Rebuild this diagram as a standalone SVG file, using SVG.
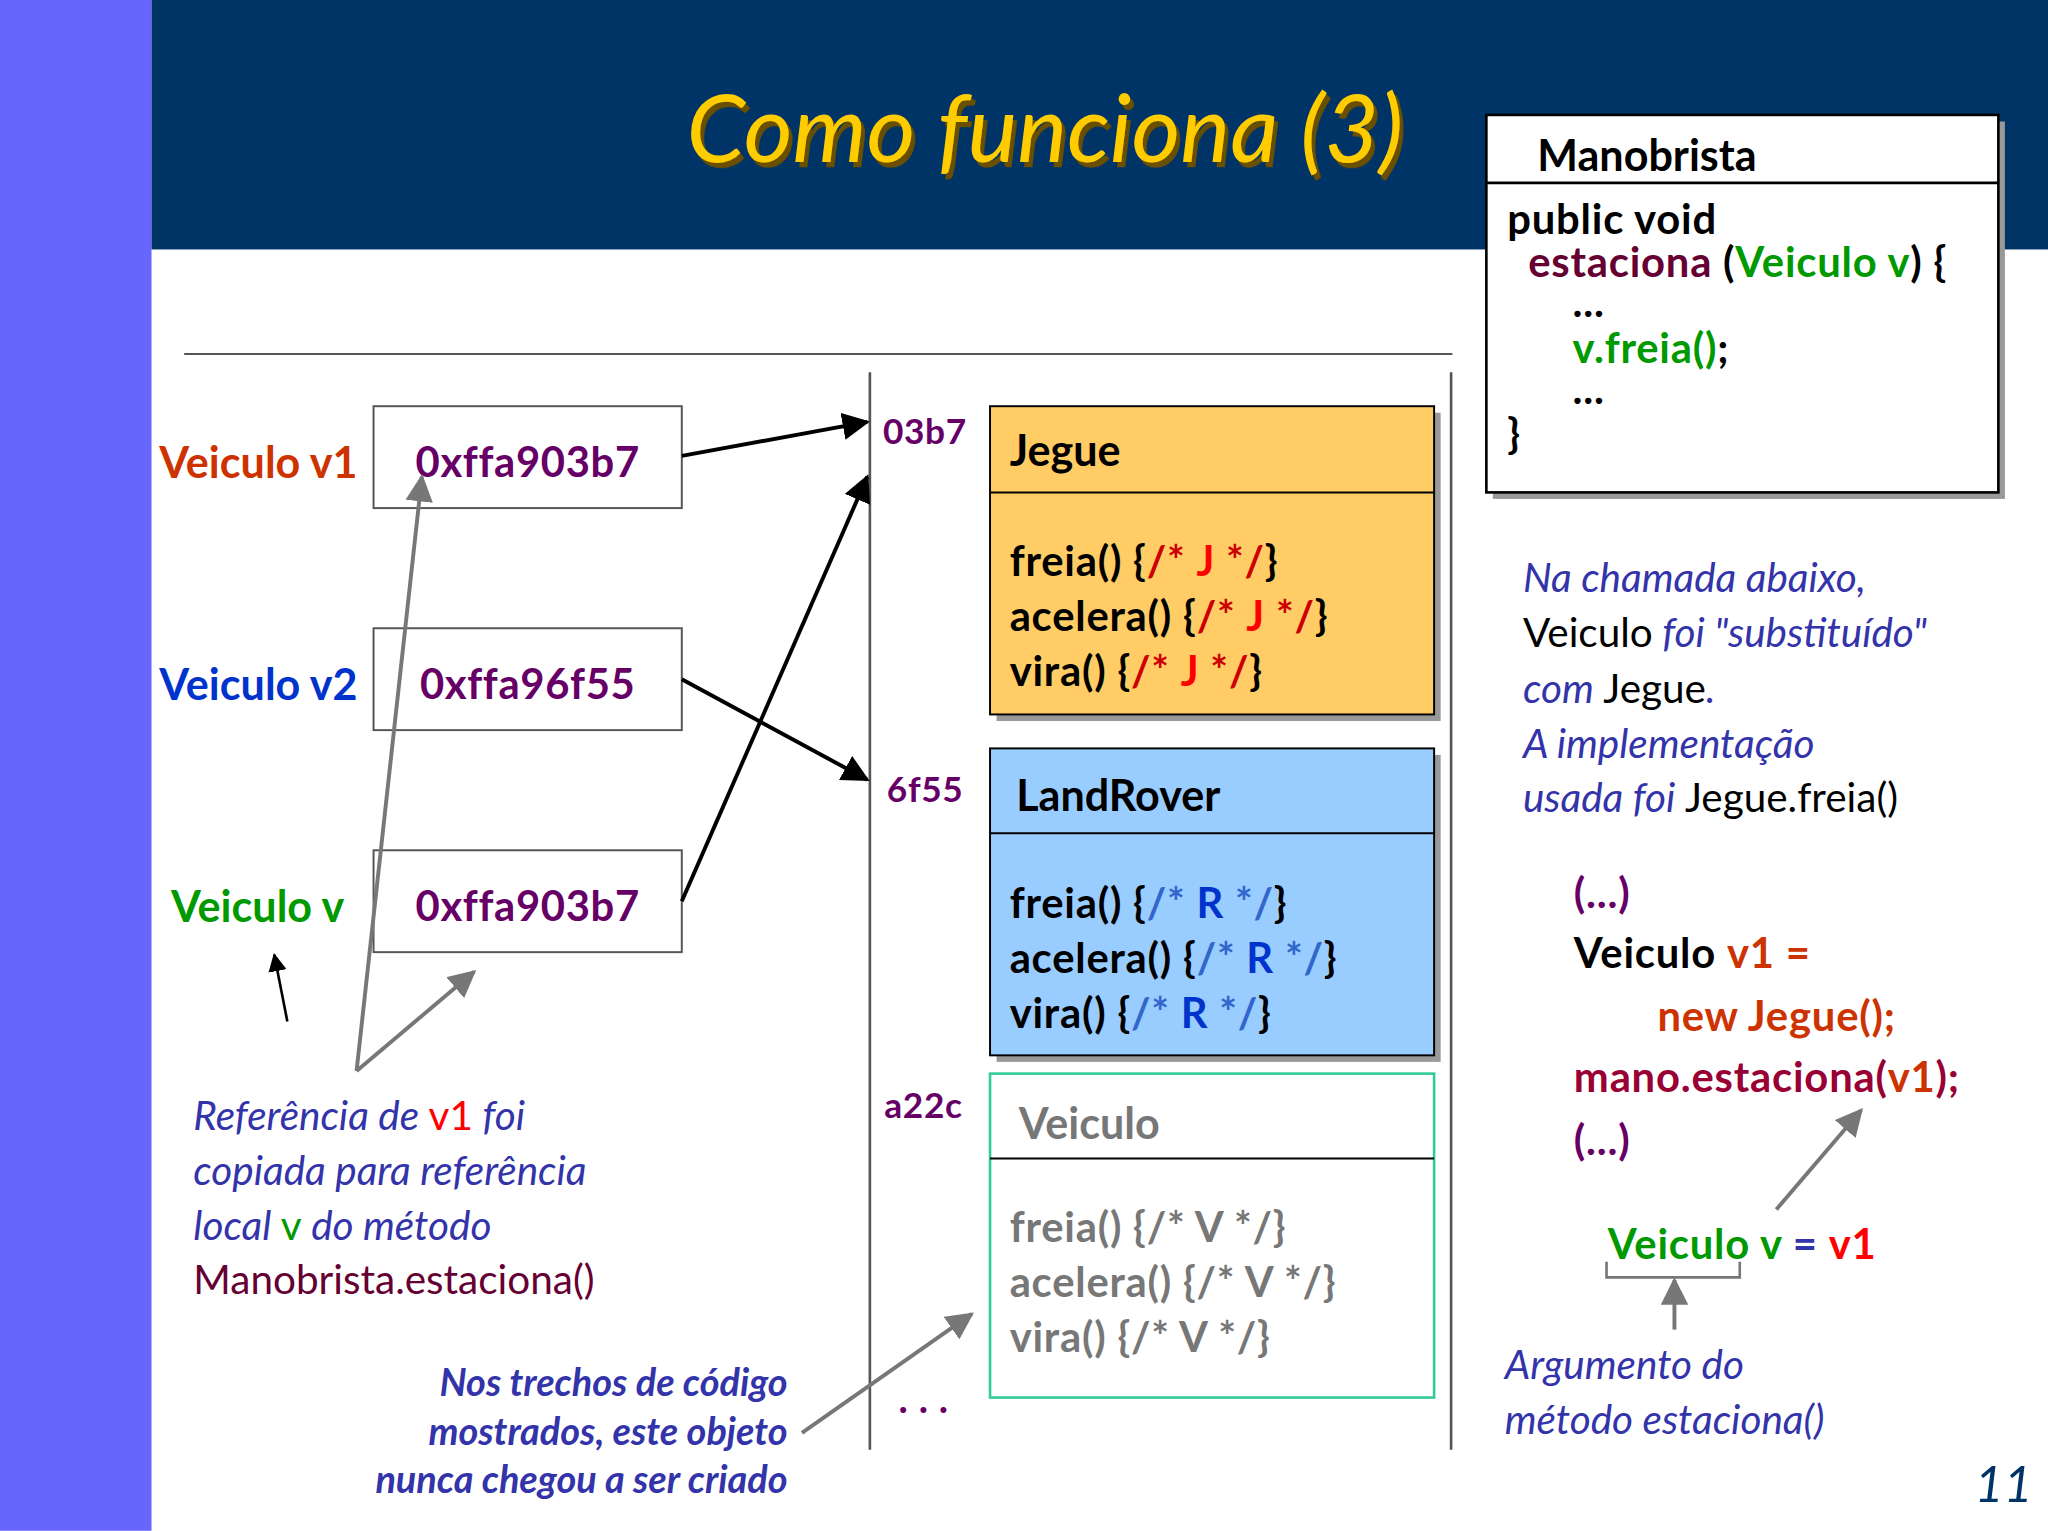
<svg xmlns="http://www.w3.org/2000/svg" width="2048" height="1531" viewBox="0 0 2048 1531">
<style>
text{font-family:Lato,"Open Sans","DejaVu Sans",sans-serif}
.b{font-weight:bold}
.addr{font-size:32px;font-weight:bold;fill:#660066;letter-spacing:0.5px}
.m{font-size:33px;font-weight:bold}
.code{font-size:32px;font-weight:bold;fill:#000;letter-spacing:0.6px}
.blue{fill:#3333aa;font-style:italic;font-size:31px}
.ln{stroke:#000;stroke-width:3;fill:none}
.gl{stroke:#777;stroke-width:3;fill:none}
</style>
<defs>
<marker id="abk" viewBox="0 0 10 10" refX="9" refY="5" markerWidth="7" markerHeight="7" orient="auto"><path d="M0,0L10,5L0,10z" fill="#000"/></marker>
<marker id="ag" viewBox="0 0 10 10" refX="9" refY="5" markerWidth="7" markerHeight="7" orient="auto"><path d="M0,0L10,5L0,10z" fill="#777"/></marker>
<filter id="sh" x="-5%" y="-20%" width="110%" height="140%"><feDropShadow dx="3" dy="4" stdDeviation="0.5" flood-color="#6b5000"/></filter>
</defs>
<g transform="scale(1.30612)">
<rect x="0" y="0" width="1568" height="1172" fill="#fff"/>
<rect x="0" y="0" width="116" height="1172" fill="#6666ff"/>
<rect x="116" y="0" width="1452" height="191" fill="#003366"/>
<g id="title">
<text x="800" y="124" font-size="72" font-style="italic" text-anchor="middle" fill="#ffcc00" filter="url(#sh)">Como funciona (3)</text>
</g>
<line x1="141" y1="271" x2="1112" y2="271" stroke="#555" stroke-width="1.5"/>
<line x1="666" y1="285" x2="666" y2="1110" stroke="#555" stroke-width="2"/>
<line x1="1111" y1="285" x2="1111" y2="1110" stroke="#555" stroke-width="2"/>

<g id="manobrista">
<rect x="1143" y="93" width="392" height="289" fill="#999"/>
<rect x="1138" y="88" width="392" height="289" fill="#fff" stroke="#000" stroke-width="2"/>
<line x1="1138" y1="140" x2="1530" y2="140" stroke="#000" stroke-width="2"/>
<text x="1177" y="131" class="m">Manobrista</text>
<text x="1154" y="179" class="code">public void</text>
<text x="1170" y="212" class="code"><tspan fill="#660033">estaciona</tspan> (<tspan fill="#009900">Veiculo v</tspan>) {</text>
<text x="1204" y="243" class="code">...</text>
<text x="1204" y="278" class="code"><tspan fill="#009900">v.freia()</tspan>;</text>
<text x="1204" y="309" class="code">...</text>
<text x="1154" y="344" class="code">}</text>
</g>

<g id="refs">
<text x="122" y="366" class="m" fill="#cc3300">Veiculo v1</text>
<rect x="286" y="311" width="236" height="78" fill="#fff" stroke="#555" stroke-width="1.5"/>
<text x="404" y="365" class="addr" text-anchor="middle">0xffa903b7</text>
<text x="122" y="536" class="m" fill="#0033cc">Veiculo v2</text>
<rect x="286" y="481" width="236" height="78" fill="#fff" stroke="#555" stroke-width="1.5"/>
<text x="404" y="535" class="addr" text-anchor="middle">0xffa96f55</text>
<text x="131" y="706" class="m" fill="#009900">Veiculo v</text>
<rect x="286" y="651" width="236" height="78" fill="#fff" stroke="#555" stroke-width="1.5"/>
<text x="404" y="705" class="addr" text-anchor="middle">0xffa903b7</text>
</g>

<g id="jegue">
<rect x="763" y="316" width="340" height="236" fill="#999"/>
<rect x="758" y="311" width="340" height="236" fill="#ffcc66" stroke="#000" stroke-width="1.5"/>
<line x1="758" y1="377" x2="1098" y2="377" stroke="#000" stroke-width="1.5"/>
<text x="773" y="357" class="m">Jegue</text>
<text x="773" y="441" class="code">freia() {<tspan fill="#cc0000">/* </tspan><tspan fill="#ff0000">J</tspan><tspan fill="#cc0000"> */</tspan>}</text>
<text x="773" y="483" class="code">acelera() {<tspan fill="#cc0000">/* </tspan><tspan fill="#ff0000">J</tspan><tspan fill="#cc0000"> */</tspan>}</text>
<text x="773" y="525" class="code">vira() {<tspan fill="#cc0000">/* </tspan><tspan fill="#ff0000">J</tspan><tspan fill="#cc0000"> */</tspan>}</text>
</g>

<g id="landrover">
<rect x="763" y="578" width="340" height="235" fill="#999"/>
<rect x="758" y="573" width="340" height="235" fill="#99ccff" stroke="#000" stroke-width="1.5"/>
<line x1="758" y1="638" x2="1098" y2="638" stroke="#000" stroke-width="1.5"/>
<text x="778" y="621" class="m">LandRover</text>
<text x="773" y="703" class="code">freia() {<tspan fill="#3366cc">/* </tspan><tspan fill="#0033cc">R</tspan><tspan fill="#3366cc"> */</tspan>}</text>
<text x="773" y="745" class="code">acelera() {<tspan fill="#3366cc">/* </tspan><tspan fill="#0033cc">R</tspan><tspan fill="#3366cc"> */</tspan>}</text>
<text x="773" y="787" class="code">vira() {<tspan fill="#3366cc">/* </tspan><tspan fill="#0033cc">R</tspan><tspan fill="#3366cc"> */</tspan>}</text>
</g>

<g id="veiculo">
<rect x="758" y="822" width="340" height="248" fill="#fff" stroke="#33cc99" stroke-width="2"/>
<line x1="758" y1="887" x2="1098" y2="887" stroke="#000" stroke-width="1.5"/>
<text x="780" y="872" class="m" fill="#777">Veiculo</text>
<text x="773" y="951" class="code" style="fill:#777">freia() {/* V */}</text>
<text x="773" y="993" class="code" style="fill:#777">acelera() {/* V */}</text>
<text x="773" y="1035" class="code" style="fill:#777">vira() {/* V */}</text>
</g>

<g id="addrs">
<text x="676" y="340" class="addr" style="font-size:27px">03b7</text>
<text x="679" y="614" class="addr" style="font-size:27px">6f55</text>
<text x="677" y="856" class="addr" style="font-size:27px">a22c</text>
<text x="688" y="1082" class="addr" style="font-size:30px">. . .</text>
</g>

<g id="connectors">
<line x1="522" y1="349" x2="664" y2="323" class="ln" marker-end="url(#abk)"/>
<line x1="522" y1="520" x2="664" y2="597" class="ln" marker-end="url(#abk)"/>
<line x1="522" y1="690" x2="664" y2="365" class="ln" marker-end="url(#abk)"/>
<line x1="273" y1="820" x2="323" y2="365" class="gl" marker-end="url(#ag)"/>
<line x1="273" y1="820" x2="363" y2="744" class="gl" marker-end="url(#ag)"/>
<line x1="220" y1="782" x2="210" y2="731" stroke="#000" stroke-width="2" marker-end="url(#abk)"/>
<line x1="614" y1="1097" x2="744" y2="1006" class="gl" marker-end="url(#ag)"/>
<line x1="1360" y1="926" x2="1425" y2="850" class="gl" marker-end="url(#ag)"/>
<line x1="1282" y1="1018" x2="1282" y2="980" class="gl" marker-end="url(#ag)"/>
<path d="M1230,966V978H1332V966" stroke="#777" stroke-width="2" fill="none"/>
</g>

<g id="notes">
<text x="148" y="865" class="blue">Referência de  <tspan fill="#ff0000" font-style="normal">v1</tspan> foi</text>
<text x="148" y="907" class="blue">copiada para referência</text>
<text x="148" y="949" class="blue">local  <tspan fill="#009900" font-style="normal">v</tspan> do método</text>
<text x="148" y="991" font-size="31" fill="#660033">Manobrista.estaciona()</text>
<text x="603" y="1069" class="blue b" text-anchor="end" style="font-size:29px">Nos trechos de código</text>
<text x="603" y="1106" class="blue b" text-anchor="end" style="font-size:29px">mostrados, este objeto</text>
<text x="603" y="1143" class="blue b" text-anchor="end" style="font-size:29px">nunca chegou a ser criado</text>

<text x="1166" y="453" class="blue">Na chamada abaixo,</text>
<text x="1166" y="495" class="blue"><tspan fill="#000" font-style="normal">Veiculo</tspan> foi "substituído"</text>
<text x="1166" y="538" class="blue">com <tspan fill="#000" font-style="normal">Jegue</tspan>.</text>
<text x="1166" y="580" class="blue">A implementação</text>
<text x="1166" y="622" class="blue">usada foi <tspan fill="#000" font-style="normal">Jegue.freia()</tspan></text>

<text x="1205" y="695" class="code" style="fill:#660066">(...)</text>
<text x="1205" y="741" class="code">Veiculo <tspan fill="#cc3300">v1 =</tspan></text>
<text x="1269" y="789" class="code" style="fill:#cc3300">new Jegue();</text>
<text x="1205" y="836" class="code" style="fill:#990033">mano.estaciona(<tspan fill="#cc3300">v1</tspan>);</text>
<text x="1205" y="884" class="code" style="fill:#660066">(...)</text>
<text x="1231" y="964" class="code" style="fill:#009900">Veiculo v <tspan fill="#3333aa">=</tspan> <tspan fill="#ff0000">v1</tspan></text>
<text x="1152" y="1056" class="blue">Argumento do</text>
<text x="1152" y="1098" class="blue">método estaciona()</text>
<text x="1512" y="1150" font-size="38" font-style="italic" fill="#003366">11</text>
</g>
</g>
</svg>
